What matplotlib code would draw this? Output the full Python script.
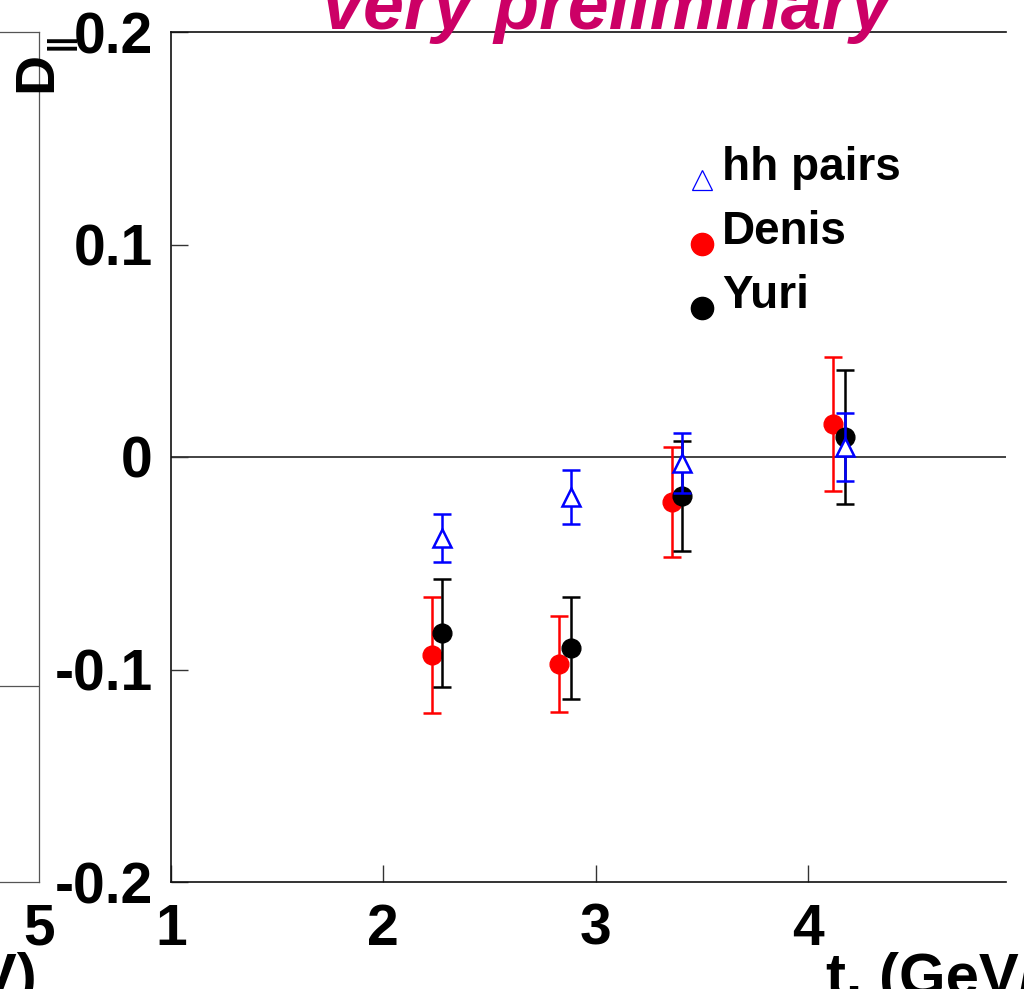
import matplotlib
matplotlib.use("Agg")
import matplotlib.pyplot as plt
from matplotlib.lines import Line2D

plt.rcParams["font.family"] = ["Liberation Sans", "DejaVu Sans"]
plt.rcParams["font.weight"] = "bold"
plt.rcParams["axes.unicode_minus"] = False

# ---------------- data ----------------
x_hh = [2.278, 2.882, 3.408, 4.174]
y_hh = [-0.0381, -0.0188, -0.0028, 0.0047]
e_hh = [0.0113, 0.0125, 0.0141, 0.0160]

x_denis = [2.229, 2.829, 3.360, 4.119]
y_denis = [-0.0932, -0.0974, -0.0212, 0.0155]
e_denis = [0.0271, 0.0228, 0.0260, 0.0316]

x_yuri = [2.278, 2.882, 3.408, 4.174]
y_yuri = [-0.0828, -0.0899, -0.0182, 0.0094]
e_yuri = [0.0256, 0.0238, 0.0259, 0.0315]

x_ticks = [1, 2, 3, 4]
x_ticklabels = ["1", "2", "3", "4"]
y_ticks = [-0.2, -0.1, 0.0, 0.1, 0.2]
y_ticklabels = ["-0.2", "-0.1", "0", "0.1", "0.2"]
legend_labels = ["hh pairs", "Denis", "Yuri"]

# ---------------- layout ----------------
W, H = 1024, 989
fig = plt.figure(figsize=(W / 100, H / 100), dpi=100)

def fx(px):
    return px / W

def fy(py):
    return 1 - py / H

LAB = 41
ax = fig.add_axes([fx(171), fy(882), fx(1006) - fx(171), fy(32) - fy(882)])
ax.set_xlim(1, 1 + (1006 - 171) / 212.33)
ax.set_ylim(-0.2, 0.2)

for s in ["left", "bottom", "top"]:
    ax.spines[s].set_linewidth(1.2)
    ax.spines[s].set_color("#111111")
ax.spines["right"].set_visible(False)

ax.set_xticks(x_ticks)
ax.set_xticklabels(x_ticklabels)
ax.set_yticks(y_ticks)
ax.set_yticklabels(y_ticklabels)
ax.tick_params(axis="both", direction="in", length=12, width=1.0, color="#333333",
               labelsize=LAB)
ax.tick_params(axis="x", pad=15, top=False)
ax.tick_params(axis="y", pad=13, right=False)
for lab in ax.get_xticklabels() + ax.get_yticklabels():
    lab.set_fontweight("bold")

ax.axhline(0, color="#222222", lw=1.2, zorder=1)

common = dict(ls="none", elinewidth=1.8, capsize=6.8, capthick=1.8)
ax.errorbar(x_denis, y_denis, yerr=e_denis, fmt="o", color="red", ms=13.5, mec="red",
            mfc="red", zorder=3, **common)
ax.errorbar(x_yuri, y_yuri, yerr=e_yuri, fmt="o", color="black", ms=13.5, mec="black",
            mfc="black", zorder=4, **common)
ax.errorbar(x_hh, y_hh, yerr=e_hh, fmt="^", color="blue", ms=12.5, mec="blue",
            mfc="white", mew=1.8, zorder=5, **common)

# legend (manual, markers on the text baseline)
leg_y = [(882 - 180) / 850, (882 - 244) / 850, (882 - 307.5) / 850]
leg_x = (702 - 171) / 835
txt_x = (722 - 171) / 835
styles = [dict(marker="^", ms=15, mfc="none", mec="blue", mew=0.9),
          dict(marker="o", ms=16, mfc="red", mec="red"),
          dict(marker="o", ms=16, mfc="black", mec="black")]
for yy, st, lab in zip(leg_y, styles, legend_labels):
    ax.add_line(Line2D([leg_x], [yy], transform=ax.transAxes, ls="none",
                       clip_on=False, **st))
    ax.text(txt_x, yy, lab, transform=ax.transAxes, fontsize=33,
            fontweight="bold", ha="left", va="baseline")

# left neighbour panel (cropped)
ax2 = fig.add_axes([-0.5, fy(882), 0.5 + fx(39), fy(32) - fy(882)])
ax2.set_xlim(0, 1)
ax2.set_ylim(0, 1)
ax2.spines["left"].set_visible(False)
for s in ["right", "bottom", "top"]:
    ax2.spines[s].set_linewidth(0.9)
    ax2.spines[s].set_color("#555555")
ax2.set_xticks([1])
ax2.set_xticklabels(["5"])
ax2.set_yticks([])
ax2.tick_params(axis="x", length=0, labelsize=LAB, pad=15)
for lab in ax2.get_xticklabels():
    lab.set_fontweight("bold")
ax2.plot([0, 1], [(882 - 686) / 850] * 2, transform=ax2.transAxes,
         color="#555555", lw=0.9)

# texts
fig.text(fx(607), fy(29), "very preliminary", fontsize=53, fontweight="bold",
         fontstyle="italic", color="#cc0066", ha="center", va="baseline")
fig.text(fx(37), fy(72), "D", fontsize=40, fontweight="bold", rotation=90,
         ha="center", va="center")
fig.text(fx(61), fy(41.5), "||", fontsize=22, fontweight="bold", rotation=90,
         ha="center", va="center")
fig.text(fx(826), fy(995), "t. (GeV/c)", fontsize=43, fontweight="bold",
         ha="left", va="baseline")
fig.text(fx(37), fy(995), "(GeV)", fontsize=43, fontweight="bold",
         ha="right", va="baseline")

fig.savefig("out.png", dpi=100)
